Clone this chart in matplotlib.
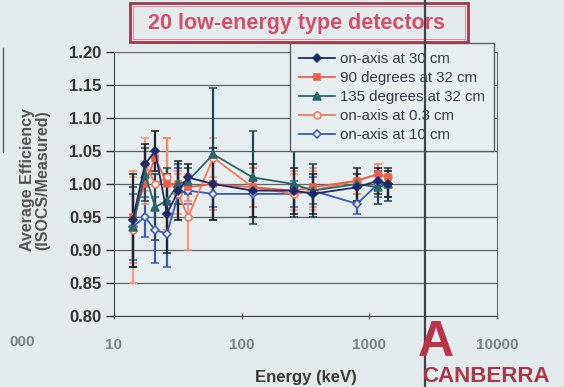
import numpy as np
import matplotlib.pyplot as plt
from matplotlib.patches import Rectangle
from matplotlib.lines import Line2D

plt.rcParams['font.family'] = ['Liberation Sans', 'DejaVu Sans']

# gamma line energies (keV) shared by the five geometries
energy = [14, 17.5, 21, 26, 32, 38, 60, 122, 255, 360, 800, 1170, 1400]

# average efficiency ratio (ISOCS / measured) and its spread
axis30_val = [0.945, 1.03, 1.05, 0.955, 0.99, 1.01, 1.00, 0.99, 0.99, 0.985, 0.995, 1.005, 1.00]
axis30_err = [0.07, 0.03, 0.03, 0.06, 0.045, 0.02, 0.055, 0.04, 0.035, 0.03, 0.02, 0.02, 0.02]

deg90_val = [0.95, 1.00, 1.04, 1.00, 1.00, 0.995, 1.00, 0.995, 0.99, 0.995, 1.005, 1.015, 1.01]
deg90_err = [0.07, 0.03, 0.04, 0.07, 0.02, 0.02, 0.04, 0.03, 0.03, 0.03, 0.02, 0.015, 0.015]

deg135_val = [0.935, 1.015, 0.965, 0.975, 1.00, 1.005, 1.045, 1.01, 1.00, 0.99, 1.00, 0.995, 1.00]
deg135_err = [0.06, 0.04, 0.05, 0.05, 0.03, 0.02, 0.10, 0.07, 0.05, 0.04, 0.025, 0.025, 0.025]

axis03_val = [0.93, 1.03, 1.00, 1.01, 0.985, 0.95, 1.04, 0.995, 0.985, 0.99, 1.005, 1.015, 1.01]
axis03_err = [0.08, 0.04, 0.04, 0.06, 0.03, 0.05, 0.03, 0.03, 0.03, 0.03, 0.02, 0.015, 0.015]

axis10_val = [0.935, 0.95, 0.93, 0.925, 0.985, 0.99, 0.985, 0.985, 0.985, 0.99, 0.97, 1.00, 1.00]
axis10_err = [0.05, 0.03, 0.05, 0.05, 0.04, 0.02, 0.02, 0.02, 0.02, 0.02, 0.015, 0.02, 0.02]

labels = ['on-axis at 30 cm', '90 degrees at 32 cm', '135 degrees at 32 cm',
          'on-axis at 0.3 cm', 'on-axis at 10 cm']

W, H = 564, 387
bg = '#e3ebed'


def fx(px):
    return px / W


def fy(py):
    return 1 - py / H


fig = plt.figure(figsize=(W / 100, H / 100), dpi=100)
fig.patch.set_facecolor(bg)

ax = fig.add_axes([fx(114), fy(316), fx(497) - fx(114), fy(52) - fy(316)])
ax.set_facecolor('#e6eef0')

series = [
    # values, errors, color, errcolor, marker, filled, size
    (axis10_val, axis10_err, '#3a5ab4', '#3a5ab4', 'D', False, 4.5),
    (axis03_val, axis03_err, '#ef7a5c', '#f09a80', 'o', False, 5),
    (deg90_val, deg90_err, '#e8604c', '#ee8c70', 's', True, 5),
    (deg135_val, deg135_err, '#2a6666', '#23494a', '^', True, 5.5),
    (axis30_val, axis30_err, '#1c2a66', '#1e2430', 'D', True, 4.5),
]
for vals, errs, col, ecol, mk, filled, ms in series:
    ax.errorbar(energy, vals, yerr=errs, color=col, ecolor=ecol, elinewidth=1.6,
                capsize=3, capthick=1.4, lw=1.3, marker=mk, ms=ms,
                mfc=col if filled else bg, mec=col, mew=1.1)

ax.set_xscale('log')
ax.set_xlim(10, 10000)
ax.set_ylim(0.8, 1.2)
ax.set_yticks(np.arange(0.80, 1.201, 0.05))
ax.yaxis.set_major_formatter('{x:.2f}')
ax.set_xticks([10, 100, 1000, 10000], ['10', '100', '1000', '10000'])
ax.xaxis.set_minor_locator(plt.NullLocator())
ax.grid(axis='y', color='#5c6164', lw=0.9)
ax.set_axisbelow(True)
ax.tick_params(axis='y', direction='out', length=6, width=1, labelsize=12,
               pad=3, colors='#333333')
ax.tick_params(axis='x', direction='inout', length=5, width=1, labelsize=11,
               pad=13, labelcolor='#7d8285', color='#666666')
for lab in ax.get_yticklabels():
    lab.set_fontweight('bold')
for lab in ax.get_xticklabels():
    lab.set_fontweight('bold')
for side in ['left', 'bottom']:
    ax.spines[side].set_color('#444444')
for side in ['top', 'right']:
    ax.spines[side].set_color('#6a6f72')

ax.set_xlabel('Energy (keV)', fontsize=12, fontweight='bold', color='#3a3a3a', labelpad=13)
fig.text(fx(35), fy(180), 'Average Efficiency\n(ISOCS/Measured)', rotation=90,
         ha='center', va='center', fontsize=11.5, fontweight='bold', color='#555555',
         linespacing=1.05)

# legend in the series' own order
order = [4, 2, 3, 1, 0]
handles = []
for i in order:
    vals, errs, col, ecol, mk, filled, ms = series[i]
    handles.append(Line2D([], [], color=col, lw=1.3, marker=mk, ms=ms,
                          mfc=col if filled else bg, mec=col, mew=1.1))
leg = ax.legend(handles, labels, loc='upper left', bbox_to_anchor=(fx(290), fy(43)),
                bbox_transform=fig.transFigure, fontsize=10.8, frameon=True,
                fancybox=False, edgecolor='#5a5f62', facecolor='#e6eef0',
                framealpha=1, handlelength=2.4, handletextpad=0.35,
                labelspacing=0.34, borderpad=0.6, borderaxespad=0)
for t in leg.get_texts():
    t.set_color('#3a3a44')

# title box
fig.add_artist(Rectangle((fx(130), fy(42)), fx(468) - fx(130), fy(3) - fy(42),
                         transform=fig.transFigure, fill=False,
                         edgecolor='#9a3a4c', lw=2))
fig.add_artist(Rectangle((fx(133), fy(39)), fx(465) - fx(133), fy(6) - fy(39),
                         transform=fig.transFigure, fill=False,
                         edgecolor='#e58aa0', lw=0.8))
fig.text(fx(296), fy(23), '20 low-energy type detectors', ha='center', va='center',
         fontsize=15.5, fontweight='bold', color='#d24d6e')

# page edge details
fig.add_artist(Line2D([fx(425), fx(425)], [0, 1], color='#3d4346', lw=1.6))
fig.add_artist(Line2D([fx(3), fx(3)], [fy(152), fy(48)], color='#555a5d', lw=1))
fig.text(fx(22), fy(342), '000', ha='center', va='center', fontsize=11,
         fontweight='bold', color='#7d8285')
fig.text(fx(436), fy(343), 'A', ha='center', va='center', fontsize=36,
         fontweight='bold', color='#b8324a')
fig.text(fx(486), fy(376), 'CANBERRA', ha='center', va='center', fontsize=16,
         fontweight='bold', color='#a8384c')

fig.savefig('out.png', dpi=100, facecolor=bg)
